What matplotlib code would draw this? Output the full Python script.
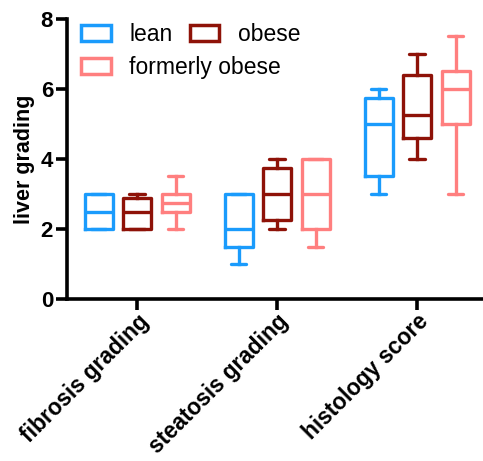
import matplotlib.pyplot as plt
from matplotlib.patches import Patch

plt.rcParams['font.family'] = ['Liberation Sans', 'DejaVu Sans']

categories = ['fibrosis grading', 'steatosis grading', 'histology score']
groups = ['lean', 'obese', 'formerly obese']
colors = ['#1A9BFC', '#8E1208', '#FF7F7F']

# box stats per group, one entry per category: (min, q1, median, q3, max)
lean_stats = [(2.0, 2.0, 2.5, 3.0, 3.0),
              (1.0, 1.5, 2.0, 3.0, 3.0),
              (3.0, 3.5, 5.0, 5.75, 6.0)]
obese_stats = [(2.0, 2.0, 2.5, 2.875, 3.0),
               (2.0, 2.25, 3.0, 3.75, 4.0),
               (4.0, 4.6, 5.25, 6.4, 7.0)]
formerly_stats = [(2.0, 2.5, 2.75, 3.0, 3.5),
                  (1.5, 2.0, 3.0, 4.0, 4.0),
                  (3.0, 5.0, 6.0, 6.5, 7.5)]
all_stats = [lean_stats, obese_stats, formerly_stats]

fig = plt.figure(figsize=(4.83, 4.61), dpi=100)
ax = fig.add_axes([67 / 483, 162 / 461, 1 - 67 / 483, 280 / 461])

offsets = [-0.275, 0.0, 0.275]
lw = 2.4
for stats, color, off in zip(all_stats, colors, offsets):
    boxes = []
    for s in stats:
        boxes.append({'whislo': s[0], 'q1': s[1], 'med': s[2],
                      'q3': s[3], 'whishi': s[4], 'fliers': []})
    pos = [i + off for i in range(len(categories))]
    ax.bxp(boxes, positions=pos, widths=0.2, showfliers=False,
           capwidths=0.11,
           boxprops=dict(color=color, linewidth=lw),
           medianprops=dict(color=color, linewidth=lw),
           whiskerprops=dict(color=color, linewidth=lw),
           capprops=dict(color=color, linewidth=lw, solid_capstyle='round'))

ax.set_xlim(-0.5, 2.47)
ax.set_ylim(0, 8)
ax.set_yticks([0, 2, 4, 6, 8])
ax.set_xticks(range(len(categories)))
ax.set_xticklabels(categories, rotation=45, ha='right', rotation_mode='anchor',
                   fontsize=16.3, fontweight='bold')
for lab in ax.get_yticklabels():
    lab.set_fontsize(16)
    lab.set_fontweight('bold')
ax.set_ylabel('liver grading', fontsize=15.5, fontweight='bold', labelpad=4)

for side in ['top', 'right']:
    ax.spines[side].set_visible(False)
for side in ['left', 'bottom']:
    ax.spines[side].set_linewidth(2.6)
ax.tick_params(axis='both', width=2.6, length=8, pad=2)
ax.tick_params(axis='x', pad=0)

handles = [Patch(facecolor='none', edgecolor=c, linewidth=2.5) for c in colors]
leg_kw = dict(loc='upper left', frameon=False, fontsize=16.5,
              handlelength=1.3, handleheight=0.75, handletextpad=0.8,
              columnspacing=0.75, borderpad=0, borderaxespad=0,
              bbox_transform=fig.transFigure)
leg1 = ax.legend(handles[:2], groups[:2], ncol=2,
                 bbox_to_anchor=(81 / 483, 1 - 23 / 461), **leg_kw)
ax.add_artist(leg1)
ax.legend(handles[2:], groups[2:],
          bbox_to_anchor=(81 / 483, 1 - 56 / 461), **leg_kw)

fig.savefig('out.png', dpi=100)
